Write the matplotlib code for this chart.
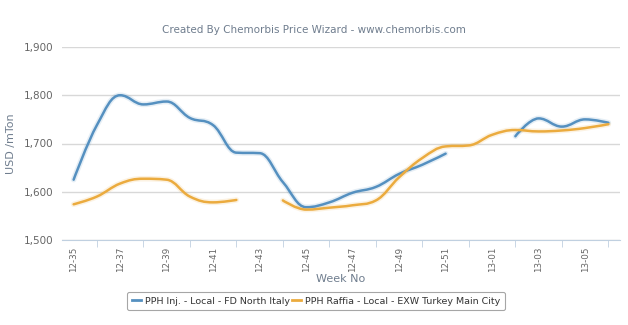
import numpy as np
import matplotlib
matplotlib.use("Agg")
import matplotlib.pyplot as plt
from matplotlib.path import Path
from matplotlib.patches import PathPatch
from matplotlib.lines import Line2D

weeks = ["12-35", "12-36", "12-37", "12-38", "12-39", "12-40", "12-41", "12-42",
         "12-43", "12-44", "12-45", "12-46", "12-47", "12-48", "12-49", "12-50",
         "12-51", "12-52", "13-01", "13-02", "13-03", "13-04", "13-05", "13-06"]

pph_inj_italy = [1625, 1738, 1800, 1781, 1787, 1753, 1738, 1681, 1680, 1620,
                 1568, 1578, 1598, 1610, 1637, 1656, 1679, None, None, 1715,
                 1752, 1735, 1750, 1743]
pph_raffia_turkey = [1574, 1590, 1617, 1627, 1625, 1590, 1578, 1583, None, 1582,
                     1563, 1567, 1572, 1582, 1630, 1670, 1694, 1696, 1718, 1728,
                     1725, 1727, 1732, 1740]

names = ["PPH Inj. - Local - FD North Italy", "PPH Raffia - Local - EXW Turkey Main City"]
colors = ["#5590c0", "#ebab3e"]

size_labels = 7.5
grey = "#666666"
title_col = "#6f7d8e"


def segments(vals):
    seg = []
    for i, v in enumerate(vals):
        if v is None:
            if seg:
                yield seg
            seg = []
        else:
            seg.append((i, v))
    if seg:
        yield seg


def spline_path(pts, smoothing=1.5):
    # highcharts-like spline: bezier through the points
    verts = [pts[0]]
    codes = [Path.MOVETO]
    n = len(pts)
    conts = []
    for i in range(n):
        x, y = pts[i]
        if 0 < i < n - 1:
            lx, ly = pts[i - 1]
            nx, ny = pts[i + 1]
            d = smoothing + 1
            lcx = (smoothing * x + lx) / d
            lcy = (smoothing * y + ly) / d
            rcx = (smoothing * x + nx) / d
            rcy = (smoothing * y + ny) / d
            corr = (rcy - lcy) * (rcx - x) / (rcx - lcx) + y - rcy
            lcy += corr
            rcy += corr
            if lcy > max(ly, y):
                lcy = max(ly, y); rcy = 2 * y - lcy
            elif lcy < min(ly, y):
                lcy = min(ly, y); rcy = 2 * y - lcy
            if rcy > max(ny, y):
                rcy = max(ny, y); lcy = 2 * y - rcy
            elif rcy < min(ny, y):
                rcy = min(ny, y); lcy = 2 * y - rcy
            conts.append(((lcx, lcy), (rcx, rcy)))
        else:
            conts.append(((x, y), (x, y)))
    for i in range(1, n):
        verts += [conts[i - 1][1], conts[i][0], pts[i]]
        codes += [Path.CURVE4] * 3
    return Path(verts, codes)


fig = plt.figure(figsize=(6.28, 3.25), dpi=100)
ax = fig.add_axes([62 / 628, 1 - 240 / 325, (620 - 62) / 628, (240 - 47) / 325])

for vals, col in zip([pph_inj_italy, pph_raffia_turkey], colors):
    for seg in segments(vals):
        p = spline_path(seg)
        ax.add_patch(PathPatch(p, facecolor="none", edgecolor=col, lw=4.0, alpha=0.15,
                               capstyle="round", joinstyle="round", zorder=2))
        ax.add_patch(PathPatch(p, facecolor="none", edgecolor=col, lw=1.8,
                               capstyle="round", joinstyle="round", zorder=3))

ax.set_xlim(-0.5, len(weeks) - 0.5)
ax.set_ylim(1500, 1900)
ax.set_yticks([1500, 1600, 1700, 1800, 1900])
ax.set_yticklabels(["1,500", "1,600", "1,700", "1,800", "1,900"])
ax.yaxis.grid(True, color="#d8d8d8", lw=1)
ax.set_axisbelow(True)
ax.set_xticks(range(0, len(weeks), 2))
ax.set_xticklabels(weeks[::2], rotation=90)
ax.set_xticks(range(1, len(weeks), 2), minor=True)
ax.tick_params(axis="x", which="major", length=0, pad=5, labelsize=6.3, labelcolor=grey)
ax.tick_params(axis="x", which="minor", length=5, color="#c0d0e0")
ax.tick_params(axis="y", length=0, labelsize=size_labels, labelcolor=grey, pad=6)
for s in ["top", "right", "left"]:
    ax.spines[s].set_visible(False)
ax.spines["bottom"].set_color("#c0d0e0")

ax.set_ylabel("USD /mTon", color=title_col, fontsize=8, labelpad=6)
ax.set_xlabel("Week No", color=title_col, fontsize=8, labelpad=1)

fig.text(0.5, 1 - 30 / 325, "Created By Chemorbis Price Wizard - www.chemorbis.com",
         ha="center", va="center", color=title_col, fontsize=7.5)

handles = [Line2D([], [], color=c, lw=2) for c in colors]
leg = fig.legend(handles, names, loc="center", bbox_to_anchor=(316 / 628, 1 - 301 / 325),
                 ncol=2, fontsize=6.8, frameon=True, handlelength=1.0, handletextpad=0.4,
                 columnspacing=0.2, borderpad=0.45, fancybox=True)
leg.get_frame().set_edgecolor("#909090")
leg.get_frame().set_linewidth(0.8)
for t in leg.get_texts():
    t.set_color("#333333")

fig.savefig("out.png", dpi=100)
